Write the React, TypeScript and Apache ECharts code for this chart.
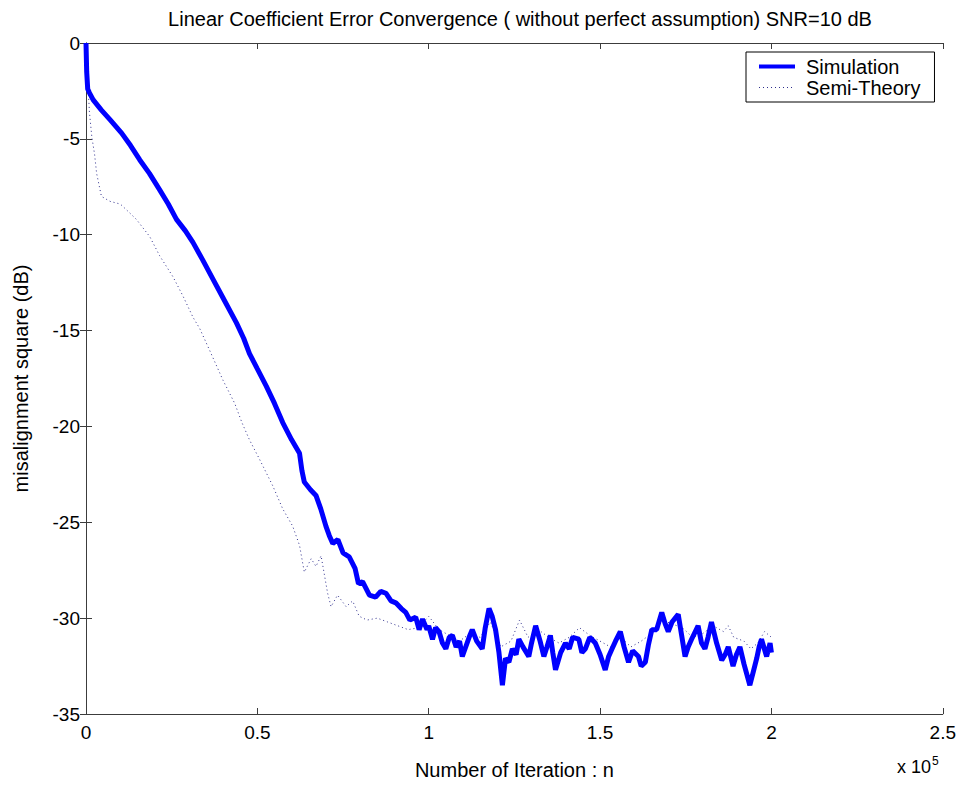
import React, { useEffect, useRef } from "react";
import * as echarts from "echarts";

const titleText = "Linear Coefficient Error Convergence ( without perfect assumption) SNR=10 dB";
const xAxisName = "Number of Iteration : n";
const yAxisName = "misalignment square (dB)";
const seriesNames = ["Simulation", "Semi-Theory"];
const xTicks = { min: 0, max: 2.5, interval: 0.5 };
const yTicks = { min: -35, max: 0, interval: 5 };

// x in units of 10^5 iterations, y in dB
const simulation: [number, number][] = [
  [0, 0], [0.002, -1.5], [0.005, -2.4], [0.01, -2.6], [0.021, -2.97], [0.045, -3.5], [0.07, -4.0],
  [0.104, -4.7], [0.13, -5.35], [0.157, -6.1], [0.185, -6.8], [0.215, -7.66], [0.24, -8.4],
  [0.264, -9.2], [0.29, -9.8], [0.312, -10.4], [0.34, -11.3], [0.37, -12.3], [0.4, -13.3],
  [0.439, -14.6], [0.46, -15.4], [0.477, -16.2], [0.5, -17.0], [0.526, -17.9], [0.55, -18.8],
  [0.574, -19.8], [0.6, -20.7], [0.623, -21.4], [0.63, -22.3], [0.637, -22.9], [0.655, -23.3],
  [0.671, -23.6], [0.685, -24.3], [0.7, -25.2], [0.71, -25.7], [0.72, -26.1], [0.735, -25.9],
  [0.75, -26.6], [0.768, -26.8], [0.785, -27.4], [0.795, -28.2], [0.807, -28.1], [0.827, -28.8],
  [0.845, -28.9], [0.86, -28.6], [0.875, -28.7], [0.89, -29.1], [0.904, -29.2], [0.92, -29.5],
  [0.933, -29.7], [0.945, -30.1], [0.962, -29.95], [0.972, -30.6], [0.982, -30.05], [0.995, -30.6],
  [1.0, -30.4], [1.011, -31.1], [1.02, -30.5], [1.03, -30.7], [1.04, -31.3], [1.05, -31.6],
  [1.06, -31.0], [1.069, -30.9], [1.08, -31.5], [1.09, -31.2], [1.098, -32.0], [1.11, -31.4],
  [1.12, -30.9], [1.127, -30.6], [1.14, -31.2], [1.156, -31.6], [1.165, -30.5], [1.176, -29.5],
  [1.185, -29.9], [1.195, -30.6], [1.205, -31.8], [1.215, -33.5], [1.224, -32.1], [1.234, -32.3],
  [1.244, -31.6], [1.255, -31.9], [1.263, -31.1], [1.275, -31.5], [1.292, -32.0], [1.3, -31.3],
  [1.312, -30.4], [1.325, -31.2], [1.336, -32.0], [1.345, -31.5], [1.355, -30.9], [1.362, -31.8],
  [1.37, -32.7], [1.385, -31.8], [1.399, -31.3], [1.41, -31.6], [1.42, -31.0], [1.438, -31.1],
  [1.447, -31.8], [1.457, -31.6], [1.47, -31.0], [1.486, -31.3], [1.5, -31.9], [1.515, -32.7],
  [1.525, -32.0], [1.535, -31.6], [1.545, -31.2], [1.559, -30.7], [1.57, -31.5], [1.583, -32.3],
  [1.595, -31.7], [1.612, -32.0], [1.62, -32.5], [1.632, -32.3], [1.641, -31.4], [1.651, -30.6],
  [1.665, -30.6], [1.68, -29.7], [1.69, -30.3], [1.699, -30.7], [1.71, -30.2], [1.728, -29.8],
  [1.738, -30.9], [1.748, -32.0], [1.757, -31.5], [1.767, -31.1], [1.786, -30.4], [1.796, -31.3],
  [1.806, -31.6], [1.815, -31.0], [1.825, -30.2], [1.84, -31.3], [1.855, -32.2], [1.865, -31.9],
  [1.874, -31.5], [1.888, -32.5], [1.898, -31.9], [1.908, -31.5], [1.92, -32.4], [1.937, -33.5],
  [1.947, -32.8], [1.957, -32.1], [1.964, -31.5], [1.971, -31.1], [1.986, -32.0], [1.996, -31.3],
  [2.0, -31.8],
];

const semiTheory: [number, number][] = [
  [0, 0], [0.003, -2.0], [0.007, -2.6], [0.01, -3.6], [0.017, -4.9], [0.025, -5.8], [0.031, -6.8],
  [0.045, -8.0], [0.07, -8.26], [0.1, -8.4], [0.118, -8.7], [0.147, -9.2], [0.186, -10.1],
  [0.215, -11.1], [0.254, -12.2], [0.283, -13.2], [0.312, -14.3], [0.332, -14.9], [0.36, -16.0],
  [0.4, -17.6], [0.434, -18.8], [0.455, -19.8], [0.477, -20.7], [0.506, -21.7], [0.545, -23.1],
  [0.574, -24.3], [0.603, -25.2], [0.623, -26.2], [0.637, -27.6], [0.657, -26.9], [0.671, -27.3],
  [0.686, -26.75], [0.705, -28.7], [0.715, -29.4], [0.734, -28.8], [0.759, -29.4], [0.778, -29.1],
  [0.797, -29.9], [0.82, -30.1], [0.85, -30.0], [0.88, -30.2], [0.91, -30.4], [0.94, -30.6],
  [0.97, -30.5], [1.0, -29.9], [1.03, -30.6], [1.06, -30.9], [1.09, -31.2], [1.12, -30.8],
  [1.15, -31.0], [1.18, -30.2], [1.21, -31.5], [1.24, -31.2], [1.265, -30.1], [1.29, -31.0],
  [1.32, -30.6], [1.35, -31.0], [1.38, -31.3], [1.41, -31.0], [1.44, -30.5], [1.47, -30.9],
  [1.5, -31.2], [1.53, -31.5], [1.56, -31.0], [1.59, -31.5], [1.62, -31.2], [1.65, -30.8],
  [1.68, -30.1], [1.71, -30.3], [1.74, -30.5], [1.77, -31.0], [1.8, -30.8], [1.83, -30.4],
  [1.86, -30.7], [1.874, -30.4], [1.89, -31.0], [1.92, -31.2], [1.94, -31.6], [1.96, -31.3],
  [1.98, -30.7], [2.0, -31.0],
];

const FONT = "'Liberation Sans', Arial, sans-serif";
const AXIS_COLOR = "#3c3c3c";

export default function App() {
  const ref = useRef<HTMLDivElement>(null);
  useEffect(() => {
    if (!ref.current) return;
    const chart = echarts.init(ref.current, null, { renderer: "svg" });
    const hiddenAxisCommon = {
      axisLine: { show: true, lineStyle: { color: AXIS_COLOR, width: 1 } },
      axisTick: { show: true, inside: true, length: 6, lineStyle: { color: AXIS_COLOR } },
      axisLabel: { show: false },
      splitLine: { show: false },
    };
    chart.setOption({
      animation: false,
      backgroundColor: "#ffffff",
      textStyle: { fontFamily: FONT },
      title: {
        text: titleText,
        left: 515,
        textAlign: "center",
        top: 4,
        textStyle: { fontFamily: FONT, fontSize: 20, fontWeight: "normal", color: "#000" },
      },
      grid: { left: 86, right: 14, top: 43, bottom: 70, containLabel: false },
      legend: {
        show: true,
        orient: "vertical",
        left: 746,
        top: 52,
        padding: [4, 14, 4, 11],
        itemGap: 0,
        itemWidth: 36,
        itemHeight: 14,
        borderColor: "#000",
        borderWidth: 1,
        backgroundColor: "#fff",
        itemStyle: { opacity: 0 },
        textStyle: { fontFamily: FONT, fontSize: 20, color: "#000", lineHeight: 21, padding: [0, 0, 0, 6] },
        data: [
          { name: seriesNames[0], lineStyle: { width: 4, color: "#0000ff" } },
          { name: seriesNames[1], lineStyle: { width: 1, color: "#2e2e8c", type: [1, 3] } },
        ],
      },
      xAxis: [
        {
          type: "value",
          min: xTicks.min,
          max: xTicks.max,
          interval: xTicks.interval,
          name: xAxisName,
          nameLocation: "middle",
          nameGap: 46,
          nameTextStyle: { fontFamily: FONT, fontSize: 20, color: "#000" },
          axisLine: { show: true, onZero: false, lineStyle: { color: AXIS_COLOR, width: 1 } },
          axisTick: { show: true, inside: true, length: 6, lineStyle: { color: AXIS_COLOR } },
          axisLabel: { fontFamily: FONT, fontSize: 19, color: "#000", margin: 9 },
          splitLine: { show: false },
        },
        {
          type: "value",
          position: "top",
          min: xTicks.min,
          max: xTicks.max,
          interval: xTicks.interval,
          ...hiddenAxisCommon,
        },
      ],
      yAxis: [
        {
          type: "value",
          min: yTicks.min,
          max: yTicks.max,
          interval: yTicks.interval,
          name: yAxisName,
          nameLocation: "middle",
          nameGap: 55,
          nameRotate: 90,
          nameTextStyle: { fontFamily: FONT, fontSize: 20, color: "#000" },
          axisLine: { show: true, onZero: false, lineStyle: { color: AXIS_COLOR, width: 1 } },
          axisTick: { show: true, inside: true, length: 6, lineStyle: { color: AXIS_COLOR } },
          axisLabel: { fontFamily: FONT, fontSize: 19, color: "#000", margin: 6 },
          splitLine: { show: false },
        },
        {
          type: "value",
          position: "right",
          min: yTicks.min,
          max: yTicks.max,
          interval: yTicks.interval,
          ...hiddenAxisCommon,
        },
      ],
      graphic: [
        {
          type: "text",
          left: 897,
          top: 755,
          style: {
            text: "x 10{sup|5}",
            fontFamily: FONT,
            fontSize: 18,
            fill: "#000",
            rich: {
              sup: { fontFamily: FONT, fontSize: 12, verticalAlign: "top", padding: [0, 0, 12, 1] },
            },
          },
        },
      ],
      series: [
        {
          name: seriesNames[1],
          type: "line",
          data: semiTheory,
          showSymbol: false,
          symbol: "none",
          lineStyle: { color: "#2e2e8c", width: 1, type: [1, 3] },
          itemStyle: { color: "#2e2e8c" },
          z: 2,
        },
        {
          name: seriesNames[0],
          type: "line",
          data: simulation,
          showSymbol: false,
          symbol: "none",
          lineStyle: { color: "#0000ff", width: 5 },
          itemStyle: { color: "#0000ff" },
          z: 3,
        },
      ],
    });
    return () => chart.dispose();
  }, []);
  return (
    <div
      ref={ref}
      style={{ position: "fixed", left: 0, top: 0, width: 959, height: 785, background: "#fff" }}
    />
  );
}
